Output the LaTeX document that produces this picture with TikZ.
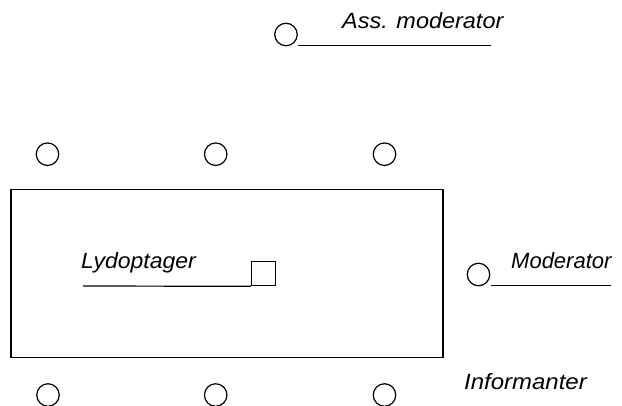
\documentclass[tikz,border=0pt]{standalone}
\usepackage{fontspec}
\usepackage{graphicx}
\setmainfont{Liberation Sans}
\begin{document}
\begin{tikzpicture}[x=1pt,y=-1pt,
  seat/.style={draw,circle,line width=1.2pt,minimum size=22.5pt,inner sep=0pt},
  label/.style={anchor=base west,inner sep=0pt,font=\fontsize{22}{26}\selectfont\itshape},
  rule/.style={line width=1.2pt}]
\useasboundingbox (0,0) rectangle (622,405);
\clip (0,0) rectangle (622,405);
% table
\node[draw,line width=1.2pt,minimum width=432pt,minimum height=167.5pt,inner sep=0pt] (table) at (227,273.6) {};
% recorder on the table
\node[draw,line width=1.2pt,minimum size=24pt,inner sep=0pt] (rec) at (263.5,273.7) {};
\node[label] (lyd) at (81,268) {\scalebox{1.045}[1]{Lydoptager}};
\coordinate (lydline) at (83,286);
\draw[rule] (lydline) -- (rec.south west);
% informants along the table
\node[seat] (t1) at (47.5,154.2) {};
\node[seat] (t2) at (215.7,154.2) {};
\node[seat] (t3) at (384.5,154.2) {};
\node[seat] (b1) at (48,395) {};
\node[seat] (b2) at (215.7,395) {};
\node[seat] (b3) at (384.5,395) {};
\node[label] (inf) at (464,389) {\scalebox{1.09}[1]{Informanter}};
% moderator
\node[seat] (mod) at (478.5,274.5) {};
\node[label] (modl) at (511,268) {Moderator};
\coordinate (mod1) at (491,285.7);
\coordinate (mod2) at (611,285.7);
\draw[rule] (mod1) -- (mod2);
% assistant moderator
\node[seat] (am) at (286,34.5) {};
\node[label] (aml) at (342,28.3) {\scalebox{1.066}[1]{Ass. moderator}};
\coordinate (am1) at (298,45.7);
\coordinate (am2) at (491,45.7);
\draw[rule] (am1) -- (am2);
\end{tikzpicture}
\end{document}
